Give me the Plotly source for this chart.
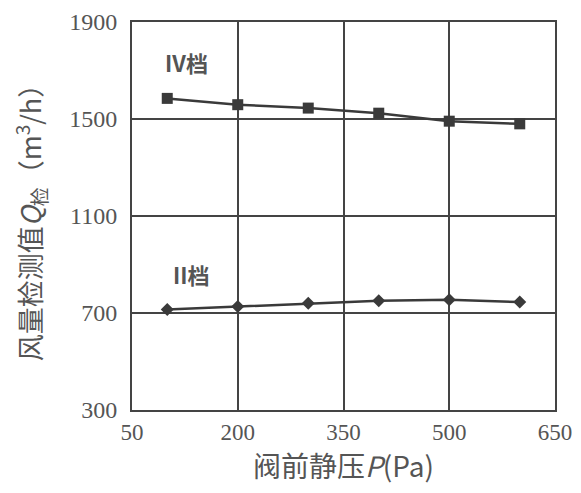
import plotly.graph_objects as go

pressure = [100, 200, 300, 400, 500, 600]
q_gear4 = [1585, 1559, 1545, 1524, 1491, 1480]
q_gear2 = [714, 727, 740, 751, 755, 745]

x_ticks = [50, 200, 350, 500, 650]
y_ticks = [300, 700, 1100, 1500, 1900]

grid_color = "#444444"
line_color = "#3a3a3a"
text_color = "#555555"

fig = go.Figure()
fig.add_trace(go.Scatter(
    x=pressure, y=q_gear4, mode="lines+markers",
    line=dict(color=line_color, width=2.5),
    marker=dict(symbol="square", size=11, color=line_color),
    showlegend=False))
fig.add_trace(go.Scatter(
    x=pressure, y=q_gear2, mode="lines+markers",
    line=dict(color=line_color, width=2.5),
    marker=dict(symbol="diamond", size=10, color=line_color),
    showlegend=False))

fig.add_annotation(x=128, y=1735, text="<b>IV档</b>", showarrow=False,
                   font=dict(family="Noto Sans CJK SC", size=22, color=text_color))
fig.add_annotation(x=134, y=862, text="<b>II档</b>", showarrow=False,
                   font=dict(family="Noto Sans CJK SC", size=22, color=text_color))

fig.update_layout(
    width=565, height=477,
    margin=dict(l=124, r=18, t=14, b=75, autoexpand=False),
    paper_bgcolor="white", plot_bgcolor="white",
    font=dict(family="Liberation Serif", color=text_color),
)
fig.update_xaxes(
    range=[50, 650], tickvals=x_ticks, ticktext=[str(v) for v in x_ticks],
    showgrid=True, gridcolor=grid_color, gridwidth=2,
    showline=True, linecolor=grid_color, linewidth=2, mirror=True,
    zeroline=False, ticks="", automargin=False,
    tickfont=dict(family="Liberation Serif", size=23, color=text_color),
    title=dict(text="阀前静压<i>P</i>(Pa)", standoff=4,
               font=dict(family="Noto Sans CJK SC", size=28, color=text_color)),
)
fig.update_yaxes(
    range=[300, 1900], tickvals=y_ticks, ticktext=[str(v) for v in y_ticks],
    showgrid=True, gridcolor=grid_color, gridwidth=2,
    showline=True, linecolor=grid_color, linewidth=2, mirror=True,
    zeroline=False, ticks="", ticklen=0, automargin=False, ticklabelstandoff=8,
    tickfont=dict(family="Liberation Serif", size=24, color=text_color),
    title=dict(text="风量检测值<i>Q</i><sub>检</sub>（m<sup>3</sup>/h）", standoff=26,
               font=dict(family="Noto Sans CJK SC", size=27, color=text_color)),
)

fig.write_html("out.html")
